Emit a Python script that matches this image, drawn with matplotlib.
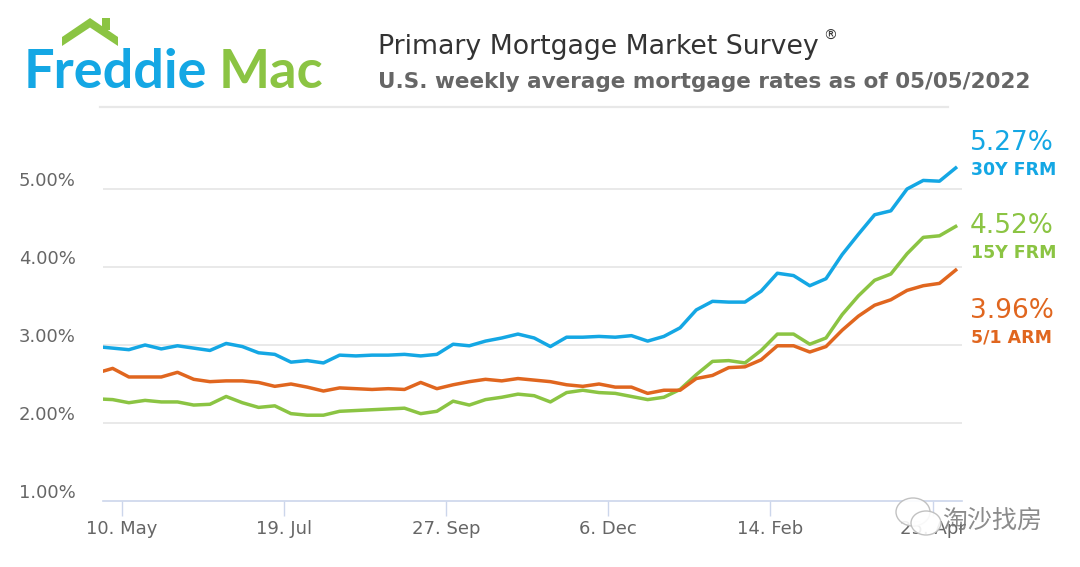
import datetime as dt
import matplotlib
matplotlib.use('Agg')
import matplotlib.pyplot as plt
from matplotlib.patches import Polygon, Rectangle, Ellipse
import pandas as pd

# ---- data: Freddie Mac PMMS, weekly (Thursdays) 2021-04-29 .. 2022-05-05 ----
first_week = '2021-04-29'
n_weeks = 54

frm30 = [2.98, 2.96, 2.94, 3.00, 2.95, 2.99, 2.96, 2.93, 3.02, 2.98,
         2.90, 2.88, 2.78, 2.80, 2.77, 2.87, 2.86, 2.87, 2.87, 2.88,
         2.86, 2.88, 3.01, 2.99, 3.05, 3.09, 3.14, 3.09, 2.98, 3.10,
         3.10, 3.11, 3.10, 3.12, 3.05, 3.11, 3.22, 3.45, 3.56, 3.55,
         3.55, 3.69, 3.92, 3.89, 3.76, 3.85, 4.16, 4.42, 4.67, 4.72,
         5.00, 5.11, 5.10, 5.27]
frm15 = [2.31, 2.30, 2.26, 2.29, 2.27, 2.27, 2.23, 2.24, 2.34, 2.26,
         2.20, 2.22, 2.12, 2.10, 2.10, 2.15, 2.16, 2.17, 2.18, 2.19,
         2.12, 2.15, 2.28, 2.23, 2.30, 2.33, 2.37, 2.35, 2.27, 2.39,
         2.42, 2.39, 2.38, 2.34, 2.30, 2.33, 2.43, 2.62, 2.79, 2.80,
         2.77, 2.93, 3.14, 3.14, 3.01, 3.09, 3.39, 3.63, 3.83, 3.91,
         4.17, 4.38, 4.40, 4.52]
arm51 = [2.64, 2.70, 2.59, 2.59, 2.59, 2.65, 2.56, 2.53, 2.54, 2.54,
         2.52, 2.47, 2.50, 2.46, 2.41, 2.45, 2.44, 2.43, 2.44, 2.43,
         2.52, 2.44, 2.49, 2.53, 2.56, 2.54, 2.57, 2.55, 2.53, 2.49,
         2.47, 2.50, 2.46, 2.46, 2.38, 2.42, 2.42, 2.57, 2.61, 2.71,
         2.72, 2.81, 2.99, 2.99, 2.91, 2.98, 3.19, 3.37, 3.51, 3.58,
         3.70, 3.76, 3.79, 3.96]

series_names = ['30Y FRM', '15Y FRM', '5/1 ARM']
series_colors = ['#14a7e4', '#8bc443', '#e0661f']

x_tick_dates = ['2021-05-10', '2021-07-19', '2021-09-27', '2021-12-06', '2022-02-14', '2022-04-25']
x_tick_labels = ['10. May', '19. Jul', '27. Sep', '6. Dec', '14. Feb', '25. Apr']
y_ticks = [1, 2, 3, 4, 5]

weeks = pd.date_range(first_week, periods=n_weeks, freq='7D')
series = [frm30, frm15, arm51]

# ---- figure ----
W, H = 1080, 567
fig = plt.figure(figsize=(W / 100, H / 100), dpi=100)
fig.patch.set_facecolor('white')

# plot area in pixels: x 102.7..961.7, y(1%)=501, 78 px per 1%
left, right, bottom_px = 102.7, 961.7, 501
ax = fig.add_axes([left / W, 1 - bottom_px / H, (right - left) / W, 390 / H])
ax.set_facecolor('none')

for vals, col in zip(series, series_colors):
    ax.plot(weeks, vals, color=col, lw=2.5, solid_joinstyle='round', zorder=3)

ax.set_ylim(1, 6)
ax.set_xlim(weeks[0] + pd.Timedelta(days=2.7), weeks[-1] + pd.Timedelta(days=2.6))

for v in y_ticks[1:]:
    ax.axhline(v, color='#e3e3e3', lw=1.1, zorder=1)
ax.set_yticks([])
for v in y_ticks:
    ax.annotate(f'{v:.2f}%', xy=(0, v), xycoords=ax.get_yaxis_transform(),
                xytext=(-27, 3.5), textcoords='offset pixels',
                ha='right', va='baseline', fontsize=13, color='#666666')

for s in ['top', 'left', 'right']:
    ax.spines[s].set_visible(False)
ax.spines['bottom'].set_color('#ccd6eb')
ax.spines['bottom'].set_linewidth(1.2)

ax.set_xticks(pd.to_datetime(x_tick_dates))
ax.set_xticklabels(x_tick_labels)
ax.tick_params(axis='x', length=11, width=1, color='#ccd6eb', labelcolor='#666666',
               labelsize=13, pad=2.5)

# ---- end labels ----
last_vals = [frm30[-1], frm15[-1], arm51[-1]]
val_base = [150, 233, 318]
name_base = [175, 258, 343]
for v, nm, col, yb, yn in zip(last_vals, series_names, series_colors, val_base, name_base):
    fig.text(970 / W, 1 - yb / H, f'{v:.2f}%', color=col, fontsize=19,
             ha='left', va='baseline')
    fig.text(971 / W, 1 - yn / H, nm, color=col, fontsize=12.5, fontweight='bold',
             ha='left', va='baseline')

# ---- header: titles ----
fig.text(378 / W, 1 - 53.5 / H, 'Primary Mortgage Market Survey', fontsize=19.3,
         color='#333333', ha='left', va='baseline')
fig.text(823 / W, 1 - 40 / H, '®', fontsize=10, color='#333333', ha='left', va='baseline')
fig.text(378 / W, 1 - 88.5 / H, 'U.S. weekly average mortgage rates as of 05/05/2022',
         fontsize=15.5, fontweight='bold', color='#666666', ha='left', va='baseline')

# overlay in pixel coordinates for logo, separator and watermark
ov = fig.add_axes([0, 0, 1, 1], zorder=5)
ov.set_xlim(0, W)
ov.set_ylim(H, 0)
ov.axis('off')
ov.patch.set_alpha(0)

ov.plot([100, 948], [107, 107], color='#e8e8e8', lw=1.6)

# Freddie Mac logo
ov.text(24, 88.5, 'Freddie', fontsize=39, fontfamily='Lato', fontweight='bold',
        color='#14a7e4', ha='left', va='baseline')
ov.text(219, 88.5, 'Mac', fontsize=39, fontfamily='Lato', fontweight='bold',
        color='#8bc443', ha='left', va='baseline')
ov.add_patch(Polygon([(62, 37), (90, 18), (118, 37), (118, 46), (90, 27.5), (62, 46)],
                     closed=True, color='#8bc443', lw=0))
ov.add_patch(Rectangle((102, 18), 8, 12, color='#8bc443', lw=0))

# watermark
ov.add_patch(Ellipse((913, 512), 34, 28, facecolor='white', edgecolor='#bbbbbb', lw=1, alpha=0.9))
ov.add_patch(Ellipse((926, 523), 30, 24, facecolor='white', edgecolor='#bbbbbb', lw=1, alpha=0.9))
ov.text(992, 521, '淘沙找房', fontsize=18, color='#777777', alpha=0.85,
        family=['Noto Sans CJK SC', 'DejaVu Sans'], ha='center', va='center')

fig.savefig('out.png', dpi=100, facecolor='white')
